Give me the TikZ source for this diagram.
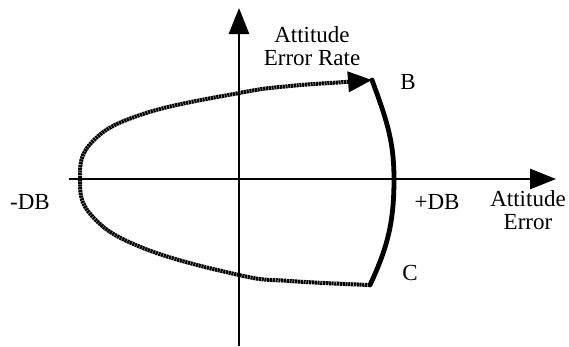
\documentclass[tikz,border=0pt]{standalone}
\usepackage{fontspec}
\setmainfont{Liberation Serif}
\usetikzlibrary{arrows.meta,positioning,calc}

\begin{document}
\begin{tikzpicture}[x=1pt,y=-1pt,
  axis/.style={line width=2.8pt,-{Triangle[length=26pt,width=20pt]}},
  track/.style={line width=4pt,dash pattern=on 2.2pt off 0.6pt,-{Triangle[length=24pt,width=20pt]}},
  pulse/.style={line width=4.8pt,line cap=round},
  lbl/.style={inner sep=0pt,align=center,font=\fontsize{23}{23}\selectfont}]
  \useasboundingbox (0,0) rectangle (569,346);
  % axes
  \coordinate (xl) at (69,179); \coordinate (xr) at (556,179);
  \coordinate (yb) at (239,346); \coordinate (yt) at (239,8);
  \draw[axis] (xl) -- (xr);
  \draw[axis] (yb) -- (yt);
  % limit cycle
  \coordinate (B) at (372,80); \coordinate (C) at (370,285); \coordinate (E) at (394,179);
  \draw[track] plot[smooth,tension=0.7] coordinates {(C) (290,281) (239,275) (143,248)
    (92,216) (80,179) (92,142) (143,114) (239,93) (290,86) (345,82) (B)};
  \draw[pulse] (B) to[out=-70,in=90] (E) to[out=-90,in=65] (C);
  % labels
  \node[lbl] (rate) at (312,46) {Attitude\\Error Rate};
  \node[lbl] (err) at (528,210) {Attitude\\Error};
  \node[lbl] (lb) at (408,82) {B};
  \node[lbl] (lc) at (410,273) {C};
  \node[lbl] (mdb) at (30,202) {-DB};
  \node[lbl] (pdb) at (437,202) {+DB};
\end{tikzpicture}
\end{document}
